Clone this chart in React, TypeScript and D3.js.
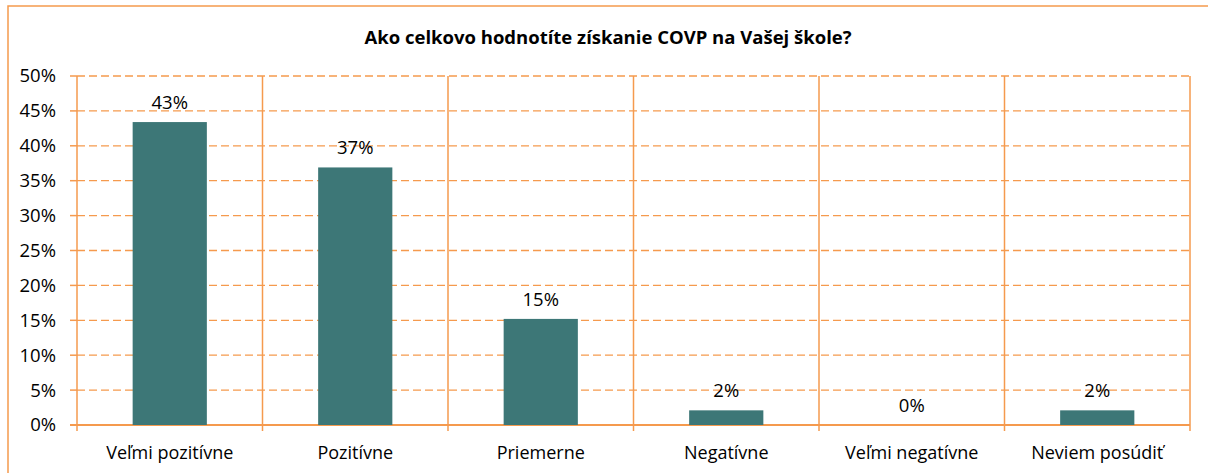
import React from "react";
import * as d3 from "d3";

const title = "Ako celkovo hodnotíte získanie COVP na Vašej škole?";
const categories = ["Veľmi pozitívne", "Pozitívne", "Priemerne", "Negatívne", "Veľmi negatívne", "Neviem posúdiť"];
const values = [43.4, 36.9, 15.2, 2.1, 0, 2.1];
const labels = ["43%", "37%", "15%", "2%", "0%", "2%"];
const yTicks = [0, 5, 10, 15, 20, 25, 30, 35, 40, 45, 50];

const W = 1208, H = 473;
const ORANGE = "#F59A4E";
const BAR = "#3D7777";
const FONT = "'Open Sans', 'Noto Sans', sans-serif";

export default function App() {
  const left = 77, right = 1190, top = 76, bottom = 425;
  const x = d3.scaleBand<string>().domain(categories).range([left, right]).paddingInner(0).paddingOuter(0);
  const y = d3.scaleLinear().domain([0, 50]).range([bottom, top]);
  const bw = x.bandwidth() * 0.4;
  const boundaries = categories.map((c) => x(c)!).concat([right]);

  return (
    <svg width={W} height={H} style={{ position: "absolute", left: 0, top: 0, background: "#fff" }}>
      <rect x={8} y={6} width={1300} height={600} fill="none" stroke={ORANGE} strokeWidth={1.5} />
      <text x={608} y={44} textAnchor="middle" fontFamily={FONT} fontWeight="bold" fontSize={18.5} fill="#000">
        {title}
      </text>
      {yTicks.map((t) => (
        <g key={t}>
          {t > 0 && (
            <line x1={left} x2={right} y1={y(t)} y2={y(t)} stroke={ORANGE} strokeWidth={1.3} strokeDasharray="8,4" />
          )}
          <line x1={70} x2={left} y1={y(t)} y2={y(t)} stroke={ORANGE} strokeWidth={1.5} />
          <text x={56} y={y(t)} dy="0.35em" textAnchor="end" fontFamily={FONT} fontSize={18.5} fill="#000">
            {t}%
          </text>
        </g>
      ))}
      {boundaries.map((b, i) => (
        <line key={i} x1={b} x2={b} y1={top} y2={bottom + 6} stroke={ORANGE} strokeWidth={1.5} />
      ))}
      <line x1={70} x2={right} y1={bottom} y2={bottom} stroke={ORANGE} strokeWidth={2} />
      {categories.map((c, i) => {
        const cx = x(c)! + x.bandwidth() / 2;
        return (
          <g key={c}>
            {values[i] > 0 && (
              <rect x={cx - bw / 2} y={y(values[i])} width={bw} height={bottom - y(values[i])} fill={BAR} />
            )}
            <text x={cx} y={y(values[i]) - 13} textAnchor="middle" fontFamily={FONT} fontSize={18.5} fill="#000">
              {labels[i]}
            </text>
            <text x={cx} y={453} dy="0.35em" textAnchor="middle" fontFamily={FONT} fontSize={18} fill="#000">
              {c}
            </text>
          </g>
        );
      })}
    </svg>
  );
}
